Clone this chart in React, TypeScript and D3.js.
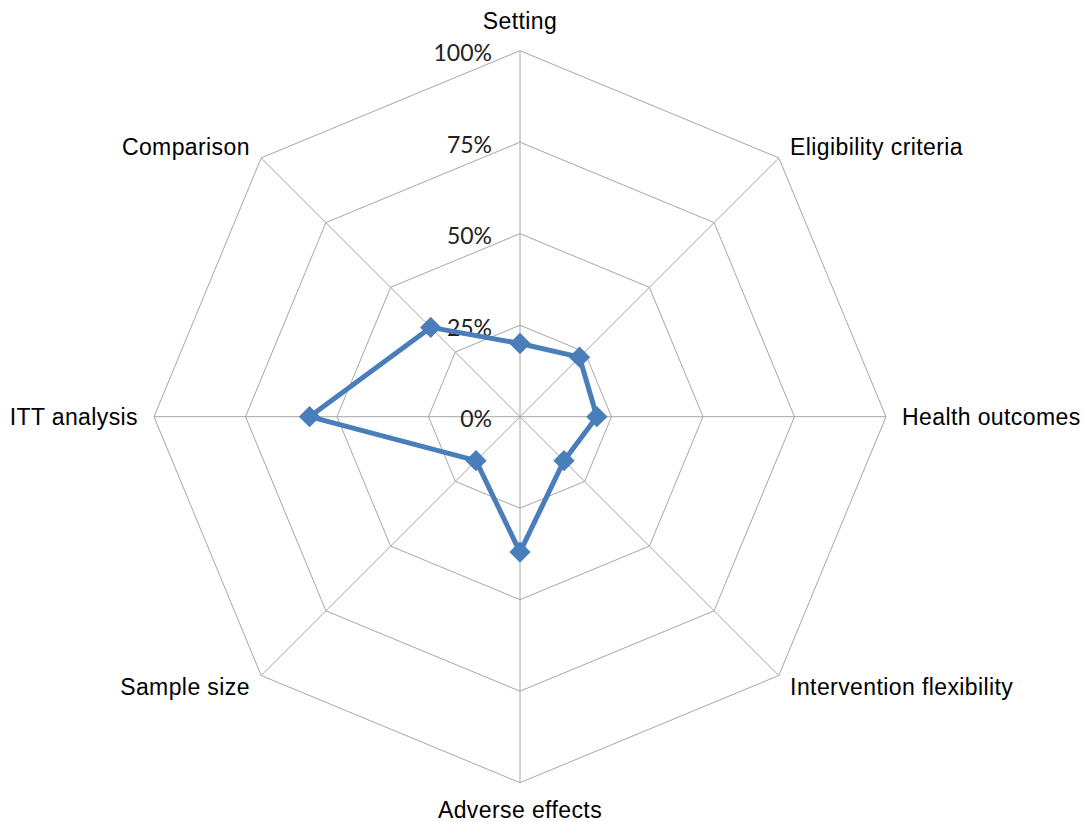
import React from "react";
import * as d3 from "d3";

const categories = [
  "Setting",
  "Eligibility criteria",
  "Health outcomes",
  "Intervention flexibility",
  "Adverse effects",
  "Sample size",
  "ITT analysis",
  "Comparison",
];
const values = [20, 23, 21, 17, 37, 17, 57.5, 34.5];
const ticks = [0, 25, 50, 75, 100];
const tickLabels = ["0%", "25%", "50%", "75%", "100%"];

const W = 1086;
const H = 822;
const cx = 520;
const cy = 416.7;
const R = 366;

export default function App() {
  const r = d3.scaleLinear().domain([0, 100]).range([0, R]);
  const n = categories.length;
  const angle = (i: number) => (i * 2 * Math.PI) / n;
  const pt = (i: number, v: number): [number, number] => [
    cx + Math.sin(angle(i)) * r(v),
    cy - Math.cos(angle(i)) * r(v),
  ];

  const ring = (v: number) =>
    d3.line()(d3.range(n + 1).map((i) => pt(i % n, v)));
  const seriesPath = d3.line()(
    d3.range(n + 1).map((i) => pt(i % n, values[i % n]))
  );
  const diamond = d3.symbol().type(d3.symbolDiamond2).size(290)();

  const labelProps = (i: number) => {
    const a = angle(i);
    const s = Math.sin(a);
    const c = Math.cos(a);
    const [vx, vy] = pt(i, 100);
    if (Math.abs(s) < 0.01) {
      if (c > 0) return { x: vx, y: vy - 21.5, anchor: "middle", base: "auto" };
      return { x: vx, y: vy + 35, anchor: "middle", base: "auto" };
    }
    if (Math.abs(c) < 0.01) {
      return {
        x: vx + (s > 0 ? 16 : -16),
        y: vy,
        anchor: s > 0 ? "start" : "end",
        base: "central",
      };
    }
    return {
      x: vx + s * 16,
      y: vy - c * 16,
      anchor: s > 0 ? "start" : "end",
      base: "central",
    };
  };

  return (
    <svg
      width={W}
      height={H}
      style={{ position: "absolute", left: 0, top: 0, background: "#fff" }}
    >
      <g fill="none" stroke="#a6a6a6" strokeWidth={1}>
        {ticks
          .filter((t) => t > 0)
          .map((t) => (
            <path key={t} d={ring(t) || ""} />
          ))}
        {categories.map((_, i) => {
          const [x, y] = pt(i, 100);
          return <line key={i} x1={cx} y1={cy} x2={x} y2={y} />;
        })}
      </g>
      <g
        fontFamily="'Lato', 'Open Sans', sans-serif"
        fontSize={23}
        fill="#222"
        textAnchor="end"
      >
        {ticks.map((t, i) => (
          <text
            key={t}
            x={cx - 28}
            y={cy - r(t) + 1.5}
            dominantBaseline="central"
          >
            {tickLabels[i]}
          </text>
        ))}
      </g>
      <path
        d={seriesPath || ""}
        fill="none"
        stroke="#4a7ebb"
        strokeWidth={5}
        strokeLinejoin="round"
      />
      {values.map((v, i) => {
        const [x, y] = pt(i, v);
        return (
          <path
            key={i}
            d={diamond || ""}
            transform={`translate(${x},${y})`}
            fill="#4a7ebb"
          />
        );
      })}
      <g
        fontFamily="'Liberation Sans', Arial, sans-serif"
        fontSize={23}
        letterSpacing={0.4}
        fill="#000"
      >
        {categories.map((c, i) => {
          const p = labelProps(i);
          return (
            <text
              key={c}
              x={p.x}
              y={p.y}
              textAnchor={p.anchor}
              dominantBaseline={p.base}
            >
              {c}
            </text>
          );
        })}
      </g>
    </svg>
  );
}
